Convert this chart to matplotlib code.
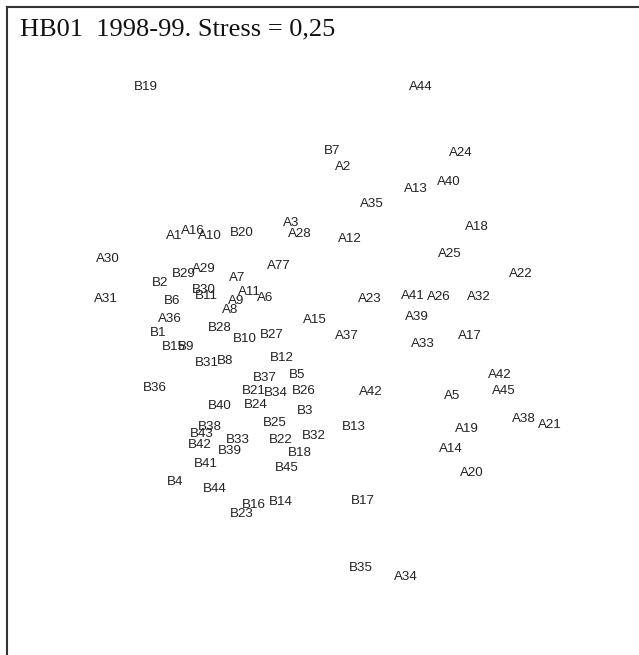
import matplotlib
matplotlib.use("Agg")
import matplotlib.pyplot as plt

# MDS configuration of sites (dimension 1, dimension 2)
labels = [
    "B19", "A44", "B7", "A2", "A24", "A40", "A13", "A35", "A3", "A28",
    "A12", "A18", "A1", "A16", "A10", "B20", "A25", "A30", "A77", "A22",
    "B29", "A29", "B2", "A7", "B30", "B11", "A11", "A31", "B6", "A9",
    "A6", "A23", "A41", "A26", "A32", "A8", "A36", "A15", "A39", "B28",
    "B1", "B27", "B10", "A37", "A17", "A33", "B15", "B9", "B12", "B8",
    "B31", "A42", "B5", "B37", "B36", "B21", "B34", "B26", "A45", "A42",
    "A5", "B40", "B24", "B3", "A38", "A21", "B25", "B38", "B13", "A19",
    "B43", "B32", "B33", "B22", "B42", "A14", "B39", "B18", "B41", "B45",
    "A20", "B4", "B44", "B17", "B14", "B16", "B23", "B35", "A34",
]
dim1 = [
    -1.74, 1.01, 0.12, 0.23, 1.41, 1.29, 0.96, 0.52, -0.29, -0.20,
    0.30, 1.57, -1.46, -1.27, -1.10, -0.78, 1.30, -2.12, -0.41, 2.01,
    -1.36, -1.16, -1.60, -0.83, -1.16, -1.14, -0.71, -2.14, -1.48, -0.84,
    -0.55, 0.50, 0.93, 1.19, 1.59, -0.90, -1.50, -0.05, 0.97, -1.00,
    -1.62, -0.48, -0.75, 0.27, 1.50, 1.03, -1.46, -1.34, -0.38, -0.95,
    -1.13, 1.80, -0.23, -0.55, -1.65, -0.66, -0.44, -0.16, 1.84, 0.51,
    1.32, -1.00, -0.64, -0.15, 2.04, 2.30, -0.45, -1.10, 0.34, 1.47,
    -1.18, -0.06, -0.82, -0.39, -1.20, 1.31, -0.90, -0.20, -1.14, -0.33,
    1.52, -1.45, -1.05, 0.43, -0.39, -0.66, -0.78, 0.41, 0.86,
]
dim2 = [
    2.63, 2.63, 1.99, 1.83, 1.97, 1.68, 1.61, 1.46, 1.27, 1.16,
    1.11, 1.23, 1.14, 1.19, 1.14, 1.17, 0.96, 0.91, 0.84, 0.76,
    0.76, 0.81, 0.67, 0.72, 0.60, 0.54, 0.58, 0.51, 0.49, 0.49,
    0.52, 0.51, 0.54, 0.53, 0.53, 0.40, 0.31, 0.30, 0.33, 0.22,
    0.17, 0.15, 0.11, 0.14, 0.14, 0.06, 0.03, 0.03, -0.08, -0.11,
    -0.13, -0.25, -0.25, -0.28, -0.38, -0.41, -0.43, -0.41, -0.41, -0.42,
    -0.46, -0.56, -0.55, -0.61, -0.69, -0.75, -0.73, -0.77, -0.77, -0.79,
    -0.84, -0.86, -0.90, -0.90, -0.95, -0.99, -1.01, -1.03, -1.14, -1.18,
    -1.23, -1.32, -1.39, -1.51, -1.52, -1.55, -1.64, -2.18, -2.27,
]
title = "HB01  1998-99. Stress = 0,25"

W, H = 639, 655
fig = plt.figure(figsize=(W / 100, H / 100), dpi=100)
ax = fig.add_axes([7 / W, 0, 1 - 7 / W, 1 - 7 / H])
ax.set_xlim(-3.13, 3.19)
ax.set_ylim(-3.05, 3.43)
for side in ("right", "bottom"):
    ax.spines[side].set_visible(False)
for side in ("left", "top"):
    ax.spines[side].set_color("#333333")
    ax.spines[side].set_linewidth(1.5)
ax.set_xticks([])
ax.set_yticks([])

for name, x, y in zip(labels, dim1, dim2):
    ax.text(x, y, name, ha="center", va="center", fontsize=9.6,
            family="Liberation Sans", color="#222222")

fig.text(20 / W, 1 - 29 / H, title, ha="left", va="center",
         fontsize=19, family="Liberation Serif", color="#111111")

fig.savefig("out.png", dpi=100)
